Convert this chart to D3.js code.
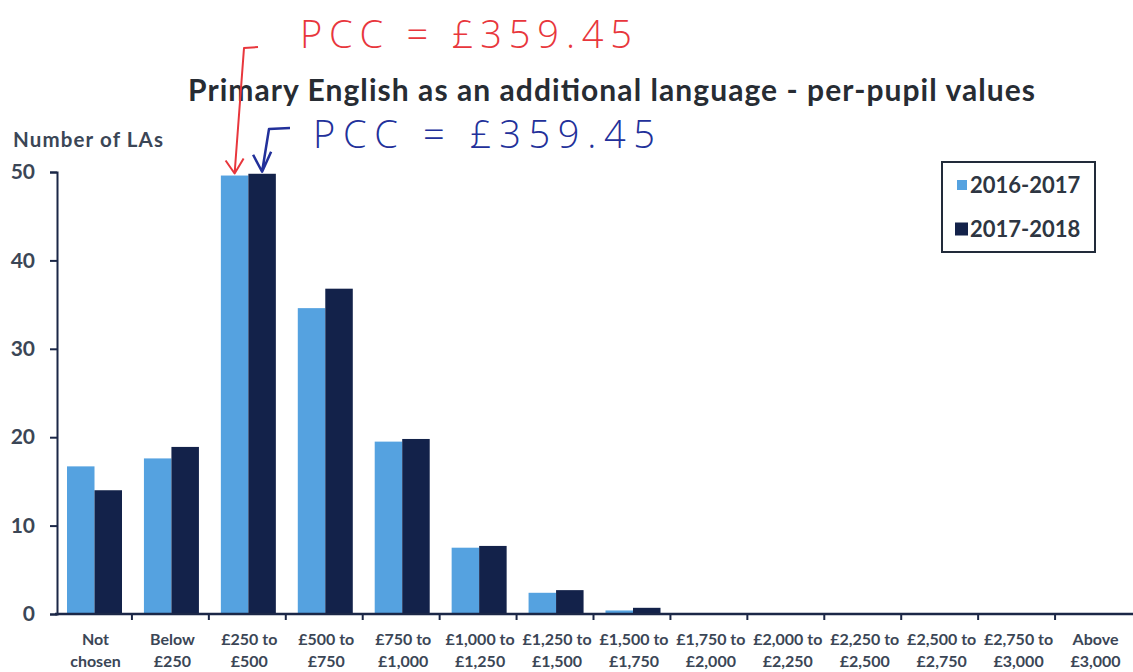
<!DOCTYPE html>
<html><head><meta charset="utf-8">
<script src="https://cdn.jsdelivr.net/npm/d3@7"></script>
<style>
html,body{margin:0;padding:0;background:#fff;}
svg{display:block;font-family:Lato,"Open Sans",sans-serif;}
</style></head>
<body>
<svg id="chart" width="1133" height="672"></svg>
<script>
const categories = [
  ["Not","chosen"],["Below","£250"],["£250 to","£500"],["£500 to","£750"],
  ["£750 to","£1,000"],["£1,000 to","£1,250"],["£1,250 to","£1,500"],["£1,500 to","£1,750"],
  ["£1,750 to","£2,000"],["£2,000 to","£2,250"],["£2,250 to","£2,500"],["£2,500 to","£2,750"],
  ["£2,750 to","£3,000"],["Above","£3,000"]
];
const seriesNames = ["2016-2017","2017-2018"];
const values2016 = [16.7, 17.6, 49.6, 34.6, 19.5, 7.5, 2.4, 0.4, 0, 0, 0, 0, 0, 0];
const values2017 = [14.0, 18.9, 49.8, 36.8, 19.8, 7.7, 2.7, 0.7, 0, 0, 0, 0, 0, 0];
const yTicks = [0, 10, 20, 30, 40, 50];
const titleText = "Primary English as an additional language - per-pupil values";
const yAxisTitle = "Number of LAs";
const noteText = "PCC = £359.45";
const highlightIndex = 2;

const colors = ["#55a2e0", "#13224a"];
const axisColor = "#1b2747";
const labelColor = "#3b4656";

const svg = d3.select("#chart");
const keys = categories.map((c,i)=>i);
const x0 = d3.scaleBand().domain(keys).range([55, 1132]).padding(0);
const x1 = d3.scaleBand().domain(seriesNames).range([12, 67]).padding(0);
const y = d3.scaleLinear().domain([0, 50]).range([614, 172]);

const data = categories.map((c,i)=>({i, vals:[values2016[i], values2017[i]]}));

// bars
const g = svg.append("g");
g.selectAll("g.cat").data(data).join("g")
  .attr("transform", d=>`translate(${x0(d.i)},0)`)
  .selectAll("rect").data(d=>d.vals.map((v,k)=>({v,k})))
  .join("rect")
  .attr("x", d=>x1(seriesNames[d.k]))
  .attr("width", x1.bandwidth())
  .attr("y", d=>y(d.v))
  .attr("height", d=>y(0)-y(d.v))
  .attr("fill", d=>colors[d.k]);

// y axis
const yAxis = d3.axisLeft(y).tickValues(yTicks).tickSize(7).tickPadding(15);
const ya = svg.append("g").attr("transform","translate(57,0)").call(yAxis);
ya.select(".domain").attr("stroke", axisColor).attr("stroke-width", 2);
ya.selectAll(".tick line").attr("stroke", axisColor).attr("stroke-width", 2);
ya.selectAll(".tick text").attr("fill", labelColor).attr("font-size", 21).attr("font-weight", 700)
  .attr("font-family","Lato,sans-serif");

// x axis
const xa = svg.append("g").attr("transform",`translate(0,${y(0)})`);
xa.append("line").attr("x1",55).attr("x2",1133).attr("y1",0).attr("y2",0)
  .attr("stroke",axisColor).attr("stroke-width",2.5);
xa.selectAll("line.tk").data(keys.slice(1)).join("line").attr("class","tk")
  .attr("x1",d=>x0(d)).attr("x2",d=>x0(d)).attr("y1",0).attr("y2",6)
  .attr("stroke",axisColor).attr("stroke-width",2);
const xl = xa.selectAll("text.xl").data(data).join("text").attr("class","xl")
  .attr("x", d=>x0(d.i)+x0.bandwidth()/2+2)
  .attr("text-anchor","middle").attr("fill",labelColor)
  .attr("font-size",16).attr("font-weight",700);
xl.append("tspan").attr("x", d=>x0(d.i)+x0.bandwidth()/2+2).attr("y",31).text(d=>categories[d.i][0]);
xl.append("tspan").attr("x", d=>x0(d.i)+x0.bandwidth()/2+2).attr("y",53).text(d=>categories[d.i][1]);

// titles
svg.append("text").attr("x",188).attr("y",101)
  .attr("font-size",30).attr("font-weight",700).attr("fill","#272c33")
  .attr("textLength",847).attr("lengthAdjust","spacing").text(titleText);
svg.append("text").attr("x",13).attr("y",147).attr("font-size",20.5).attr("font-weight",700)
  .attr("fill",labelColor).attr("textLength",150).attr("lengthAdjust","spacing").text(yAxisTitle);

// legend
const lg = svg.append("g");
lg.append("rect").attr("x",942).attr("y",162).attr("width",153).attr("height",90)
  .attr("fill","#fff").attr("stroke","#222b3a").attr("stroke-width",2);
const li = lg.selectAll("g.li").data(seriesNames).join("g")
  .attr("transform",(d,i)=>`translate(0,${185+i*44})`);
li.append("rect").attr("x",(d,i)=>i?955:957).attr("y",(d,i)=>i?-6.5:-5)
  .attr("width",(d,i)=>i?13:10).attr("height",(d,i)=>i?13:10)
  .attr("fill",(d,i)=>colors[i]);
li.append("text").attr("x",970).attr("y",8).attr("font-size",22).attr("font-weight",700)
  .attr("fill","#2e3642").text(d=>d);

// handwritten annotations
const redTipX = x0(highlightIndex)+x1(seriesNames[0])+x1.bandwidth()/2;
const blueTipX = x0(highlightIndex)+x1(seriesNames[1])+x1.bandwidth()/2;
const redTipY = y(values2016[highlightIndex]) - 2;
const blueTipY = y(values2017[highlightIndex]) - 2;
const red = "#e8363c", blue = "#22309a";

svg.append("text").attr("x",300).attr("y",48).attr("font-size",38).attr("font-weight",300)
  .attr("font-family","'Open Sans',sans-serif")
  .attr("fill",red).attr("textLength",332).attr("lengthAdjust","spacing").text(noteText);
svg.append("text").attr("x",313).attr("y",148).attr("font-size",38).attr("font-weight",300)
  .attr("font-family","'Open Sans',sans-serif")
  .attr("fill",blue).attr("textLength",342).attr("lengthAdjust","spacing").text(noteText);

svg.append("path")
  .attr("d",`M258,47 L244,48 L${redTipX},${redTipY} M${redTipX-9},${redTipY-13} L${redTipX},${redTipY} L${redTipX+9},${redTipY-15}`)
  .attr("fill","none").attr("stroke",red).attr("stroke-width",2).attr("stroke-linejoin","round");
svg.append("path")
  .attr("d",`M290,128 L269,129 L${blueTipX},${blueTipY} M${blueTipX-9},${blueTipY-17} L${blueTipX},${blueTipY} L${blueTipX+9},${blueTipY-20}`)
  .attr("fill","none").attr("stroke",blue).attr("stroke-width",2.5).attr("stroke-linejoin","round");
</script>
</body></html>
